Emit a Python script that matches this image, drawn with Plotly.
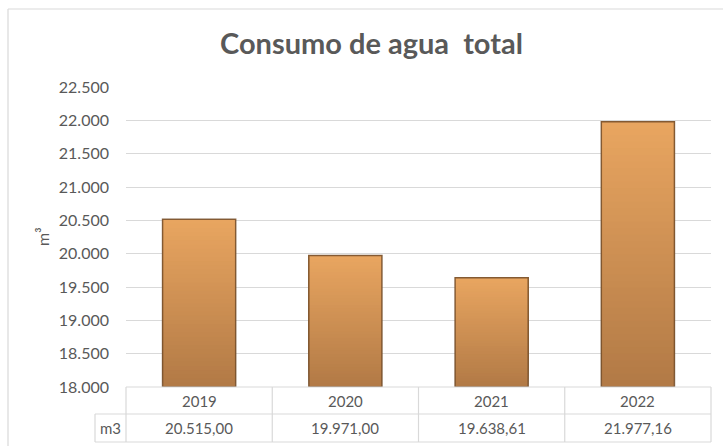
import plotly.graph_objects as go

# ---- data ----
years = ["2019", "2020", "2021", "2022"]
consumo_m3 = [20515.00, 19971.00, 19638.61, 21977.16]
row_label = "m3"
y_ticks = [18000, 18500, 19000, 19500, 20000, 20500, 21000, 21500, 22000, 22500]
title_text = "Consumo de agua  total"
y_title = "m³"

# ---- style ----
W, H = 723, 446
L, R, T, B = 126, 12, 87, 59
pw, ph = W - L - R, H - T - B
ymin, ymax = 18000, 22500
FONT = "Lato"
GREY = "#595959"
GRID = "#D9D9D9"
top_rgb = (232, 165, 96)
bot_rgb = (178, 122, 70)


def fmt_es(v):
    s = f"{v:,.2f}"
    return s.replace(",", "X").replace(".", ",").replace("X", ".")


def px_x(p):
    return (p - L) / pw


def px_y(p):
    return (T + ph - p) / ph


fig = go.Figure()

# gradient bars: overlaid segments, each reaching from its start up to the bar top
N = 40
for i in range(N):
    t = i / (N - 1)
    c = tuple(round(bot_rgb[k] + (top_rgb[k] - bot_rgb[k]) * t) for k in range(3))
    col = f"rgb{c}"
    base = [ymin + (v - ymin) * i / N for v in consumo_m3]
    fig.add_trace(go.Bar(
        x=years, y=[v - b for v, b in zip(consumo_m3, base)], base=base,
        marker=dict(color=col, line=dict(width=0), opacity=1),
        hoverinfo="skip", showlegend=False,
    ))

# outline
fig.add_trace(go.Bar(
    x=years, y=[v - ymin for v in consumo_m3], base=[ymin] * len(years),
    marker=dict(color="rgba(0,0,0,0)", opacity=1,
                line=dict(color="rgba(115,78,42,0.85)", width=1.5)),
    showlegend=False, hovertemplate="%{x}: %{customdata}<extra></extra>",
    customdata=[fmt_es(v) for v in consumo_m3],
))

fig.update_layout(
    width=W, height=H,
    margin=dict(l=L, r=R, t=T, b=B, pad=0),
    paper_bgcolor="white", plot_bgcolor="white",
    barmode="overlay", bargap=0.5,
    separators=",.",
    font=dict(family=FONT, color=GREY),
    xaxis=dict(showticklabels=False, showgrid=False, zeroline=False, showline=False,
               ticks="", range=[-0.5, len(years) - 0.5]),
    yaxis=dict(range=[ymin, ymax], tickvals=y_ticks, tickformat=",.0f",
               tickfont=dict(family=FONT, size=16, color=GREY),
               showgrid=True, gridcolor=GRID, gridwidth=1.3, zeroline=False,
               showline=False, ticks="", ticklabelstandoff=16),
)

shapes = []
line = dict(color=GRID, width=1.2)
# chart border (left and top edges)
shapes.append(dict(type="line", xref="paper", yref="paper",
                   x0=px_x(8), x1=px_x(8), y0=px_y(H), y1=px_y(9), line=line))
shapes.append(dict(type="line", xref="paper", yref="paper",
                   x0=px_x(8), x1=px_x(W), y0=px_y(9), y1=px_y(9), line=line))
# data table grid
y_top, y_mid, y_bot = 0, px_y(414), px_y(442)
x_lab = px_x(95)
n = len(years)
shapes.append(dict(type="line", xref="paper", yref="paper", x0=0, x1=1, y0=y_top, y1=y_top, line=line))
shapes.append(dict(type="line", xref="paper", yref="paper", x0=x_lab, x1=1, y0=y_mid, y1=y_mid, line=line))
shapes.append(dict(type="line", xref="paper", yref="paper", x0=x_lab, x1=1, y0=y_bot, y1=y_bot, line=line))
for k in range(n + 1):
    shapes.append(dict(type="line", xref="paper", yref="paper", x0=k / n, x1=k / n,
                       y0=y_bot, y1=y_top, line=line))
shapes.append(dict(type="line", xref="paper", yref="paper", x0=x_lab, x1=x_lab,
                   y0=y_bot, y1=y_mid, line=line))
fig.update_layout(shapes=shapes)

ann = []
ann.append(dict(text=f"<b>{title_text}</b>", xref="paper", yref="paper",
                x=px_x(371), y=px_y(42), showarrow=False, xanchor="center", yanchor="middle",
                font=dict(family=FONT, size=29, color=GREY)))
ann.append(dict(text=y_title, xref="paper", yref="paper", x=px_x(42), y=0.5,
                xanchor="center", yanchor="middle",
                textangle=-90, showarrow=False, font=dict(family=FONT, size=16, color=GREY)))
for idx, (yr, v) in enumerate(zip(years, consumo_m3)):
    ann.append(dict(text=yr, xref="x", yref="paper", x=idx, y=px_y(401), showarrow=False,
                    xanchor="center", yanchor="middle",
                    font=dict(family=FONT, size=15, color=GREY)))
    ann.append(dict(text=fmt_es(v), xref="x", yref="paper", x=idx, y=px_y(428), showarrow=False,
                    xanchor="center", yanchor="middle",
                    font=dict(family=FONT, size=15, color=GREY)))
ann.append(dict(text=row_label, xref="paper", yref="paper", x=px_x(110), y=px_y(428),
                xanchor="center", yanchor="middle",
                showarrow=False, font=dict(family=FONT, size=15, color=GREY)))
fig.update_layout(annotations=ann)

fig.write_html("out.html", config={"displayModeBar": False},
               post_script="document.body.style.margin='0';document.body.style.overflow='hidden';"
                           "document.documentElement.style.overflow='hidden';")
